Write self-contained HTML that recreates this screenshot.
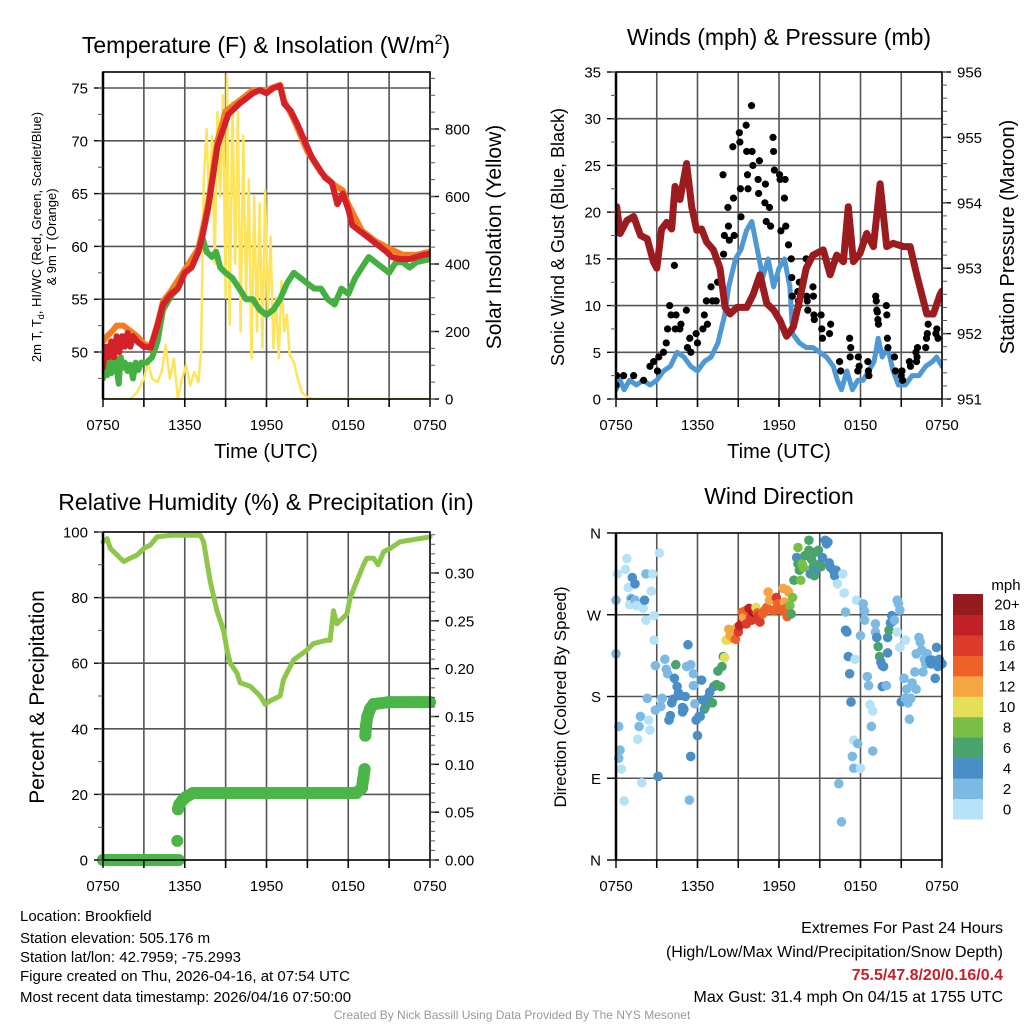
<!DOCTYPE html>
<html><head><meta charset="utf-8"><style>
html,body{margin:0;padding:0;background:#fff;}
svg{display:block;font-family:"Liberation Sans",Arial,sans-serif;}
</style></head><body>
<svg id="fig" width="1024" height="1024" viewBox="0 0 1024 1024" xmlns="http://www.w3.org/2000/svg">
<rect width="1024" height="1024" fill="#fff"/>
<text x="266" y="53" font-size="23" text-anchor="middle">Temperature (F) &amp; Insolation (W/m<tspan font-size="14" dy="-9">2</tspan><tspan dy="9">)</tspan></text>
<text x="779" y="45" font-size="23" text-anchor="middle">Winds (mph) &amp; Pressure (mb)</text>
<text x="266" y="510" font-size="23" text-anchor="middle">Relative Humidity (%) &amp; Precipitation (in)</text>
<text x="779" y="504" font-size="23" text-anchor="middle">Wind Direction</text>
<text x="266" y="458" font-size="20" text-anchor="middle">Time (UTC)</text>
<text x="779" y="458" font-size="20" text-anchor="middle">Time (UTC)</text>
<text transform="translate(41,237) rotate(-90)" font-size="13" text-anchor="middle">2m T, T<tspan font-size="9" dy="3">d</tspan><tspan dy="-3">, HI/WC (Red, Green, Scarlet/Blue)</tspan></text>
<text transform="translate(56,237) rotate(-90)" font-size="13" text-anchor="middle">&amp; 9m T (Orange)</text>
<text transform="translate(501,237) rotate(-90)" font-size="21" text-anchor="middle">Solar Insolation (Yellow)</text>
<text transform="translate(564,237) rotate(-90)" font-size="18" text-anchor="middle">Sonic Wind &amp; Gust (Blue, Black)</text>
<text transform="translate(1014,237) rotate(-90)" font-size="20" text-anchor="middle">Station Pressure (Maroon)</text>
<text transform="translate(44,697) rotate(-90)" font-size="21" text-anchor="middle">Percent &amp; Precipitation</text>
<text transform="translate(566,697) rotate(-90)" font-size="17" text-anchor="middle">Direction (Colored By Speed)</text>
<g font-size="15">
<text x="20" y="921">Location: Brookfield</text>
<text x="20" y="943">Station elevation: 505.176 m</text>
<text x="20" y="962">Station lat/lon: 42.7959; -75.2993</text>
<text x="20" y="981">Figure created on Thu, 2026-04-16, at 07:54 UTC</text>
<text x="20" y="1002">Most recent data timestamp: 2026/04/16 07:50:00</text>
</g>
<g font-size="16" text-anchor="end">
<text x="1003" y="933">Extremes For Past 24 Hours</text>
<text x="1003" y="957">(High/Low/Max Wind/Precipitation/Snow Depth)</text>
<text x="1003" y="980" fill="#c8202a" font-weight="bold">75.5/47.8/20/0.16/0.4</text>
<text x="1003" y="1002">Max Gust: 31.4 mph On 04/15 at 1755 UTC</text>
</g>
<text x="512" y="1019" font-size="12" fill="#999" text-anchor="middle">Created By Nick Bassill Using Data Provided By The NYS Mesonet</text>
</svg>
<script>
// ---------- DATA ----------
const xTickLabels = ["0750","1350","1950","0150","0750"];
const tempTicks = [50,55,60,65,70,75];
const solarTicks = [0,200,400,600,800];
const windTicks = [0,5,10,15,20,25,30,35];
const pressTicks = [951,952,953,954,955,956];
const rhTicks = [0,20,40,60,80,100];
const precipTicks = [0,0.05,0.10,0.15,0.20,0.25,0.30];
const dirTicks = [0,90,180,270,360];
const dirTickLabels = ["N","E","S","W","N"];

const tempRedT = [0,0.2,0.4,0.6,0.8,1,1.2,1.4,1.6,1.8,2,2.2,2.5,3,3.5,4,4.4,5,5.5,6,6.5,7,7.3,7.7,8,8.4,8.8,9.2,9.6,10,10.5,11,11.5,12,12.5,13,13.3,13.8,14.3,14.8,15.3,15.8,16.3,16.8,17.2,17.6,18,18.3,18.8,19.3,19.8,20.3,20.8,21.2,21.8,22.5,23,23.5,24];
const tempRedV = [48.5,50.5,49.5,51,49.5,51.5,50,51.5,50.5,51.8,50.5,51.5,51,50.5,50.4,52.5,54.5,55.5,56,57.5,58,59.5,61,63.5,66,69.5,71,72.5,73,73.5,74,74.5,74.8,74.5,75,75.2,73.5,72.8,71.5,70,68.5,67.5,66.5,66,64,65,63.5,62,61.5,61,60.5,60,59.5,59,58.8,58.8,59,59.2,59.3];
const tempOrangeT = [0,0.3,0.7,1,1.5,2,2.5,3,3.5,4,4.4,5,6,7,7.3,7.7,8,8.4,9,10,11,12,13,13.3,14,15,16,17,17.6,18,19,20,21,22,23,24];
const tempOrangeV = [51,51.5,52,52.5,52.5,52,51.5,50.8,50.5,52.7,54.8,55.8,57.8,59.8,61.5,64,66.5,70,72.8,73.8,74.8,74.8,75.3,73.8,72,69,67,65.8,65.3,64,61.5,60.5,59.8,59.2,59.2,59.5];
const dewT = [0,0.15,0.3,0.45,0.6,0.8,1,1.15,1.3,1.45,1.6,1.8,2,2.2,2.4,2.6,2.8,3.2,3.6,4,4.4,5,5.5,6,6.5,7,7.3,7.6,8,8.3,8.6,9,9.5,10,10.5,11,11.5,12,12.5,13,13.5,14,14.5,15,15.5,16,16.5,17,17.5,18,18.5,19,19.5,20,20.5,21,21.5,22,22.5,23,24];
const dewV = [47.5,49.8,47.8,49.5,48,50,48.5,47,49.5,48.5,49,48.2,48.8,47.5,49,48.3,49,49,49.5,51,54,55.3,56,57.5,58,59.5,60.8,59.5,59,59.5,58,57.5,57,56,55,55,54,53.5,54,55,56.5,57.5,57,56.5,56,56,55,54.5,56,55.5,57,58,59,58.5,58,57.5,58.5,58.5,58,58.5,58.8];
const solarT = [0,2,2.5,3,3.3,3.6,4,4.3,4.6,4.9,5.2,5.5,5.8,6.1,6.4,6.7,7,7.2,7.4,7.6,7.8,8,8.2,8.4,8.6,8.8,9,9.1,9.3,9.5,9.7,9.9,10.1,10.3,10.5,10.7,10.9,11.1,11.3,11.5,11.7,11.9,12.1,12.3,12.5,12.7,12.9,13.1,13.3,13.5,13.7,14,14.3,14.6,15,15.5,16,24];
const solarV = [0,0,20,60,110,60,50,80,160,60,120,0,60,100,40,80,50,140,650,800,550,780,400,850,600,900,300,960,220,880,400,850,200,780,300,650,120,600,200,580,150,620,250,480,150,300,120,350,200,250,130,110,60,20,5,0,0,0];

const windT = [0,0.3,0.6,1,1.5,2,2.5,3,3.5,4,4.5,5,5.5,6,6.5,7,7.5,8,8.3,8.8,9.2,9.6,10,10.4,10.8,11.2,11.6,12,12.4,12.8,13,13.5,14,14.5,15,15.5,16,16.3,16.6,17,17.4,17.8,18.2,18.6,19,19.3,19.6,20,20.4,20.8,21.3,21.8,22.3,22.8,23.3,23.6,24];
const windV = [1,2,1,2,1.5,2,1.5,2,3,3.5,5,4.5,3.5,3,4,4.5,6,9,12,15,16,18,19,16,13,15,12,14,15,12,7,6,5.5,5.5,5,4.5,3.5,2,1,3,1,2,2,3,4,6.5,4.5,5.5,3,1.5,1.5,2.5,2.5,3.5,4,4.5,3.5];
const gustT = [0,0.05,0.56,1.3,2.03,2.5,2.77,3.05,3.15,3.5,3.7,3.8,3.95,4.05,4.3,4.36,4.42,4.7,4.78,5.18,5.26,5.43,5.51,5.9,6.0,6.4,6.5,6.65,6.73,7.0,7.1,7.38,7.48,7.88,7.92,7.98,8.24,8.28,8.34,8.6,8.65,8.7,9.08,9.12,9.16,9.2,9.58,9.62,9.68,9.72,9.98,10.02,10.08,10.46,10.5,10.56,10.96,11.0,11.06,11.3,11.38,11.56,11.6,11.66,12.04,12.08,12.14,12.4,12.45,12.5,12.7,12.9,12.94,12.98,13.38,13.42,13.46,13.5,14.0,14.04,14.08,14.12,14.5,14.53,14.57,14.6,15.1,15.15,15.2,15.72,15.8,16.46,16.54,17.2,17.24,17.28,17.8,17.84,17.9,18.54,18.58,18.62,19.12,19.16,19.2,19.24,19.28,19.32,19.9,19.94,19.98,20.02,20.5,20.58,21.0,21.05,21.1,21.6,21.68,22.08,22.12,22.16,22.2,22.8,22.86,22.92,22.98,23.55,23.62,23.7];
const gustV = [1.5,2.5,2.5,2.5,2,3.5,4,3,4.5,5,6,7.5,10,9,14.3,7.5,9,7.5,8,9.5,5.5,6.5,5,7,6,7.5,9,10.5,8,12,10.5,10.5,12.5,24,15.5,17.5,20.5,18.5,17,27,21.5,17.5,28.5,27.5,22.5,19.5,29.3,26.5,24,22.5,31.4,26.5,25,23.5,22,25.5,21,23,19,20.5,18.5,28,26.5,24.5,24,23.5,18,21.5,23.5,18.5,16.5,15,13,11,11.5,10.5,10,12.5,15,11,10.5,9.5,12,11,9,8.5,9,7.5,6.5,7,8,4,3,6.5,4.5,5.5,3,4.5,3.5,4,3,2.5,11,10.5,9.5,9.3,8.5,8,10,9,6.5,5.5,4.5,3,2.5,3,2,4,3.5,5,4,4.5,5.5,5.5,6.5,7,8,7,7.5,6.5];
const pressT = [0,0.05,0.3,0.8,1.3,1.8,2.3,2.75,3.0,3.36,3.73,4.1,4.34,4.71,5.2,5.57,5.94,6.3,6.67,7.17,7.66,8.03,8.4,8.9,9.62,10.1,10.6,11.1,11.6,12.07,12.56,13.05,13.5,14.0,14.5,15.26,15.76,16.25,16.74,17.1,17.48,17.97,18.46,18.95,19.44,19.93,20.4,21.17,21.65,22.14,22.88,23.37,23.86,24];
const pressV = [953.79,953.94,953.53,953.73,953.79,953.5,953.45,953.1,953.0,953.6,953.7,953.6,954.25,954.05,954.6,953.94,953.58,953.6,953.4,953.28,953.0,952.4,952.3,952.4,952.4,952.6,952.9,952.46,952.36,952.2,951.96,952.1,952.5,953.0,953.2,953.28,952.9,953.2,953.1,953.94,953.1,953.23,953.53,953.33,954.29,953.33,953.38,953.33,953.33,952.9,952.3,952.3,952.6,952.65];

const rhT = [0,0.3,0.54,1.03,1.52,2.0,2.5,3.0,3.47,3.96,4.94,7.14,7.38,7.87,8.36,8.85,9.1,9.34,9.83,10.07,10.8,11.54,11.9,12.27,13.0,13.25,13.99,14.96,15.45,16.43,16.67,16.92,17.16,17.9,18.14,18.63,19.12,19.36,19.85,20.2,20.6,21.08,21.8,24];
const rhV = [97,98,95,93,91,92,93,95,96,98.5,99,99,97,85,76,70,64,60,57,54,53,50,47.5,48.5,50,55,61,64,66,67,67,76,72,75,80,85,90,92,92,90,94,95,97,98.5];
const precipT = [0,1,2,3,4,5,5.55,5.45,5.5,5.6,5.8,6.1,6.6,8,10,12,14,16,18,18.6,19.0,19.1,19.2,19.25,19.3,19.4,19.6,19.85,21,23,24];
const precipV = [0,0,0,0,0,0,0,0.02,0.053,0.058,0.062,0.066,0.07,0.07,0.07,0.07,0.07,0.07,0.07,0.07,0.075,0.085,0.095,0.13,0.14,0.15,0.158,0.163,0.165,0.165,0.165];

const dirT = [0.1,0,0,0.2,0.3,0.2,0.4,0.6,0.8,0.7,0.9,1.1,1.2,1.4,1.2,1.0,1.4,1.5,1.8,1.7,1.6,1.9,2.0,2.2,2.1,2.2,2.3,2.4,2.5,2.6,2.7,2.8,2.8,2.9,3.1,3.2,2.9,3.3,3.3,3.4,3.6,3.7,3.8,4.0,3.9,4.1,4.2,4.3,4.4,4.5,4.6,4.7,4.9,4.9,5.0,5.1,5.2,5.3,5.5,5.4,5.5,5.7,5.7,5.8,5.9,6.0,6.1,6.2,6.3,6.4,6.5,6.6,6.7,6.8,6.9,7.1,7.2,7.4,7.5,7.7,7.8,7.9,8.0,8.1,8.2,8.3,8.4,8.6,8.8,8.9,9.0,9.1,9.3,9.3,9.4,9.6,9.6,9.8,9.9,10.0,10.1,10.2,10.3,10.4,10.5,10.6,10.8,10.9,11.1,11.2,11.3,11.5,11.7,11.8,11.9,12.1,12.2,12.3,12.4,12.5,12.6,12.6,12.7,12.8,12.9,13.0,13.1,13.3,13.4,13.4,13.5,13.6,13.7,13.8,13.9,14.2,14.2,14.3,14.4,14.5,14.6,14.7,14.8,14.9,15.0,15.1,15.2,15.4,15.5,15.6,15.7,15.8,16.0,16.1,16.2,16.3,16.4,16.6,16.7,16.8,16.9,16.9,17.0,17.1,17.2,17.3,17.5,17.4,17.5,17.6,17.7,17.8,18.0,18.0,18.2,18.3,18.3,18.5,18.6,18.7,18.8,18.9,18.9,19.1,19.1,19.2,19.3,19.4,19.5,19.6,19.6,19.7,19.9,20.0,20.0,20.1,20.2,20.3,20.4,20.5,20.7,20.7,20.8,20.9,20.9,21.0,21.2,21.3,21.3,21.4,21.5,21.6,21.7,21.8,22.0,22.1,22.1,22.3,22.4,22.5,22.6,22.7,22.8,22.9,23.1,23.2,23.3,23.5,23.6,23.7,23.7,23.8,24.0];
const dirV = [315,286,227,147,121,112,100,65,332,320,300,288,311,304,286,281,286,280,158,147,133,85,277,315,286,264,178,154,143,296,315,269,242,214,92,338,165,176,169,178,221,210,205,159,154,173,177,200,215,191,184,181,168,163,166,180,213,237,114,66,215,205,192,172,154,137,158,158,198,176,166,169,174,179,185,173,191,193,208,191,213,224,223,242,242,254,247,244,243,256,251,258,264,273,267,260,275,277,267,264,273,275,278,272,269,262,271,274,278,295,286,275,275,289,282,280,275,299,284,277,297,268,295,280,271,289,308,333,326,344,319,308,326,322,335,352,341,315,331,322,313,339,320,341,326,323,333,352,348,350,327,322,319,313,319,304,84,42,315,294,273,253,251,224,205,174,132,114,101,221,286,128,101,247,282,274,264,202,192,171,147,164,120,260,251,245,235,224,218,191,214,213,192,228,245,253,261,269,263,264,251,286,282,275,234,174,200,178,242,188,173,155,178,195,207,188,227,245,240,231,207,221,216,227,220,216,220,200,234,213,216,221,216];
const dirSpd = [1,2.5,2.5,2.5,3,3,1,1,1,1,1,3,5,5,5,1,3,1,3,3,1,1,1,3,5,1,3,1,1,1,1,1,1,3,5,1,2.5,1,2.5,3,3,3,3,5,5,5,5,5,7,5,5,5,5,5,5,5,2.5,5,5,3,2.5,2.5,2.5,3,5,5,5,5,5,5,5,7,5,5,5,7,5,7,7,7,7,7,10,10,11,12,12,13,15,13,17,18,18,15,13,16,15,19,17,16,20,19,10,15,16,17,15,14,14,12,13,14,14,16,15,14,14,12,12,14,12,15,12,9,7,9,7,5,7,9,7,9,9,9,7,7,7,5,7,7,7,7,5,7,7,7,5,5,5,5,5,5,5,5,5,1,2.5,2.5,1,1,3,5,5,5,5,5,1,3,3,1,1,3,1,3,3,3,3,2.5,2.5,1,3,1,3,3,2.5,5,7,7,5,5,5,5,3,5,5,7,5,5,5,3,1,2.5,2.5,3,1,5,3,3,1,2.5,3,3,3,3,3,3,3,3,3,3,2.5,2.5,3,3,5,5,5,5,5,5,5,5,5];
const speedBinLabels = ["0","2","4","6","8","10","12","14","16","18","20+"];
const speedBinColors = ["#b5e2f7","#7dbae3","#4a8ec6","#48a46a","#79bf45","#e5df58","#f5a643","#ee6229","#dc3a2b","#bf2127","#951b1e"];

// ---------- HELPERS ----------
const NS = "http://www.w3.org/2000/svg";
const svg = document.getElementById('fig');
function mk(tag, attrs, parent) {
  const e = document.createElementNS(NS, tag);
  for (const k in attrs) e.setAttribute(k, attrs[k]);
  (parent || svg).appendChild(e);
  return e;
}
function lin(d0, d1, p0, p1) { return v => p0 + (v - d0) * (p1 - p0) / (d1 - d0); }

function panelFrame(name, x0, x1, y0, y1, hGrid, yScale) {
  const g = mk('g', {});
  
  
  const xs = lin(0, 24, x0, x1);
  for (let h = 3; h < 24; h += 3) {
    const l = mk('line', {x1: xs(h), x2: xs(h), y1: y0, y2: y1 + 8, stroke: '#555', 'stroke-width': 1.6}, g);
    
    
  }
  hGrid.forEach(v => {
    const y = yScale(v);
    if (y > y0 + 1 && y < y1 - 1) {
      const l = mk('line', {x1: x0, x2: x1, y1: y, y2: y, stroke: '#555', 'stroke-width': 1.6}, g);
      
      
    }
  });
  return g;
}
function panelBox(name, x0, x1, y0, y1) {
  const r = mk('rect', {x: x0, y: y0, width: x1 - x0, height: y1 - y0, fill: 'none', stroke: '#000', 'stroke-width': 1.6});
  
  
  const l = mk('line', {x1: x0, x2: x0, y1: y0, y2: y1, stroke: '#000', 'stroke-width': 2.5});
  
  
}
function xAxis(name, x0, x1, y1) {
  const xs = lin(0, 24, x0, x1);
  const g = mk('g', {'font-size': 15, 'text-anchor': 'middle'});
  
  
  for (let h = 0; h <= 24; h += 3) {
    mk('line', {x1: xs(h), x2: xs(h), y1: y1, y2: y1 + 8, stroke: '#000', 'stroke-width': 1.4}, g);
  }
  xTickLabels.forEach((s, i) => {
    const t = mk('text', {x: xs(i * 6), y: y1 + 31}, g);
    t.textContent = s;
    
    
  });
}
function yAxis(name, ticks, scale, xEdge, side, fmt, minorStep, y0, y1) {
  const g = mk('g', {'font-size': 15, 'text-anchor': side === 'left' ? 'end' : 'start'});
  
  
  const dir = side === 'left' ? -1 : 1;
  ticks.forEach(v => {
    const y = scale(v);
    mk('line', {x1: xEdge, x2: xEdge + dir * 9, y1: y, y2: y, stroke: '#000', 'stroke-width': 1.4}, g);
    const t = mk('text', {x: xEdge + dir * 15, y: y + 5.5}, g);
    t.textContent = fmt(v);
    
    
  });
  if (minorStep) {
    const lo = Math.min(...ticks) - 10 * minorStep, hi = Math.max(...ticks) + 10 * minorStep;
    for (let v = lo; v <= hi + 1e-9; v += minorStep) {
      const y = scale(v);
      if (y < y0 - 0.5 || y > y1 + 0.5) continue;
      mk('line', {x1: xEdge, x2: xEdge + dir * 5, y1: y, y2: y, stroke: '#555', 'stroke-width': 1}, g);
    }
  }
}
function polyline(name, T, V, xs, ys, color, width, opacity) {
  const pts = T.map((t, i) => xs(t).toFixed(1) + ',' + ys(V[i]).toFixed(1)).join(' ');
  const p = mk('polyline', {points: pts, fill: 'none', stroke: color, 'stroke-width': width, 'stroke-linejoin': 'round', 'stroke-linecap': 'round', opacity: opacity || 1});
  
  
  return p;
}

// ---------- PANEL 1: Temperature ----------
{
  const x0 = 103, x1 = 430, y0 = 72, y1 = 399;
  const xs = lin(0, 24, x0, x1);
  const yT = lin(50, 75, 352, 88);
  const yS = lin(0, 800, 399, 129);
  panelFrame('temp', x0, x1, y0, y1, tempTicks, yT);
  const clip = mk('clipPath', {id: 'c1'});
  mk('rect', {x: x0, y: y0, width: x1 - x0, height: y1 - y0}, clip);
  const g = mk('g', {'clip-path': 'url(#c1)'});
  
  
  g.appendChild(polyline('solar-insolation-line', solarT, solarV, xs, yS, '#fde45c', 2.5));
  g.appendChild(polyline('temp-9m-line', tempOrangeT, tempOrangeV, xs, yT, '#f47c22', 6));
  g.appendChild(polyline('dewpoint-line', dewT, dewV, xs, yT, '#44b041', 6));
  g.appendChild(polyline('temp-2m-line', tempRedT, tempRedV, xs, yT, '#d42128', 6));
  panelBox('temp', x0, x1, y0, y1);
  xAxis('temp', x0, x1, y1);
  yAxis('temp-y-axis', tempTicks, yT, x0, 'left', v => String(v), 2.5, y0, y1);
  yAxis('solar-y-axis', solarTicks, yS, x1, 'right', v => String(v), 50, y0, y1);
}
// ---------- PANEL 2: Winds ----------
{
  const x0 = 616, x1 = 942, y0 = 72, y1 = 399;
  const xs = lin(0, 24, x0, x1);
  const yW = lin(0, 35, 399, 72);
  const yP = lin(951, 956, 399, 72);
  panelFrame('wind', x0, x1, y0, y1, windTicks, yW);
  const clip = mk('clipPath', {id: 'c2'});
  mk('rect', {x: x0, y: y0, width: x1 - x0, height: y1 - y0}, clip);
  const g = mk('g', {'clip-path': 'url(#c2)'});
  
  
  g.appendChild(polyline('sonic-wind-line', windT, windV, xs, yW, '#4f98d6', 5));
  gustT.forEach((t, i) => {
    const c = mk('circle', {cx: xs(t), cy: yW(gustV[i]), r: 3.6, fill: '#000'}, g);
    
    
  });
  g.appendChild(polyline('pressure-line', pressT, pressV, xs, yP, '#9b1b1f', 7));
  panelBox('wind', x0, x1, y0, y1);
  xAxis('wind', x0, x1, y1);
  yAxis('wind-y-axis', windTicks, yW, x0, 'left', v => String(v), 2.5, y0, y1);
  yAxis('pressure-y-axis', pressTicks, yP, x1, 'right', v => String(v), 0.2, y0, y1);
}
// ---------- PANEL 3: RH & precip ----------
{
  const x0 = 103, x1 = 430, y0 = 532, y1 = 860;
  const xs = lin(0, 24, x0, x1);
  const yR = lin(0, 100, 860, 532);
  const yP = lin(0, 0.3, 860, 573);
  panelFrame('rh', x0, x1, y0, y1, rhTicks, yR);
  const g = mk('g', {});
  
  
  g.appendChild(polyline('relative-humidity-line', rhT, rhV, xs, yR, '#8dc74a', 5));
  for (let i = 1; i < precipT.length; i++) {
    if (Math.abs(precipV[i] - precipV[i - 1]) < 0.015 && precipT[i] >= precipT[i - 1]) {
      const l = mk('line', {x1: xs(precipT[i - 1]), y1: yP(precipV[i - 1]), x2: xs(precipT[i]), y2: yP(precipV[i]), stroke: '#4bb548', 'stroke-width': 12, 'stroke-linecap': 'round'}, g);
      
      
    }
  }
  precipT.forEach((t, i) => {
    const c = mk('circle', {cx: xs(t), cy: yP(precipV[i]), r: 6, fill: '#4bb548'}, g);
    
    
  });
  panelBox('rh', x0, x1, y0, y1);
  xAxis('rh', x0, x1, y1);
  yAxis('rh-y-axis', rhTicks, yR, x0, 'left', v => String(v), 10, y0, y1);
  yAxis('precip-y-axis', precipTicks, yP, x1, 'right', v => v.toFixed(2), 0.01, y0, y1);
}
// ---------- PANEL 4: Wind direction ----------
{
  const x0 = 616, x1 = 942, y0 = 533, y1 = 860;
  const xs = lin(0, 24, x0, x1);
  const yD = lin(0, 360, 860, 533);
  panelFrame('direction', x0, x1, y0, y1, dirTicks, yD);
  const g = mk('g', {});
  
  
  dirT.forEach((t, i) => {
    const bin = Math.min(10, Math.floor(dirSpd[i] / 2));
    const c = mk('circle', {cx: xs(t), cy: yD(dirV[i]), r: 4.8, fill: speedBinColors[bin]}, g);
    
    
  });
  panelBox('direction', x0, x1, y0, y1);
  xAxis('direction', x0, x1, y1);
  const ga = mk('g', {'font-size': 15, 'text-anchor': 'end'});
  
  
  dirTicks.forEach((v, i) => {
    const y = yD(v);
    mk('line', {x1: x0, x2: x0 - 9, y1: y, y2: y, stroke: '#000', 'stroke-width': 1.4}, ga);
    const t = mk('text', {x: x0 - 15, y: y + 5.5}, ga);
    t.textContent = dirTickLabels[i];
    
    
  });
  // legend
  const lg = mk('g', {'font-size': 15, 'text-anchor': 'middle'});
  
  
  const lt = mk('text', {x: 1006, y: 590}, lg);
  lt.textContent = 'mph';
  
  
  const bh = (819 - 594) / speedBinColors.length;
  speedBinColors.forEach((col, i) => {
    const yy = 819 - (i + 1) * bh;
    const r = mk('rect', {x: 953, y: yy, width: 30, height: bh + 0.5, fill: col}, lg);
    
    
    const t = mk('text', {x: 1007, y: yy + bh / 2 + 5.5}, lg);
    t.textContent = speedBinLabels[i];
    
    
  });
}
</script>
</body></html>
